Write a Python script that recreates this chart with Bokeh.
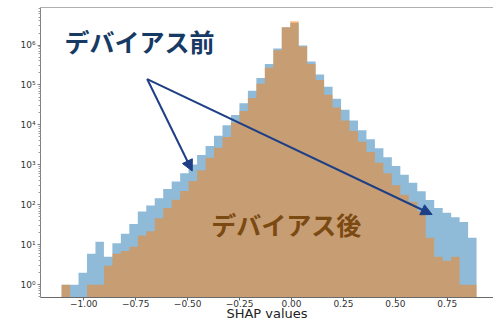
import numpy as np
from bokeh.plotting import figure
from bokeh.models import (ColumnDataSource, Range1d, FixedTicker, LinearAxis, Label,
                          Arrow, NormalHead, CustomJSTickFormatter)
from bokeh.embed import file_html
from bokeh.resources import INLINE

# ---- data ----
bin_start = -1.107
bin_end = 0.891
n_bins = 49

before_counts = [1, 1, 2, 6, 12, 5, 11, 19, 33, 68,
                 97, 146, 250, 385, 615, 1030, 1780, 2985, 5350, 9880,
                 17800, 35000, 72000, 150000, 337000, 815000, 2800000, 3600000, 975000, 390000,
                 182000, 91000, 45000, 24000, 13000, 7400, 4400, 2600, 1550, 940,
                 565, 355, 220, 132, 84, 63, 49, 37, 15]

after_counts = [1, 0, 0, 1, 1, 3, 6, 7, 9, 17,
                22, 46, 83, 134, 221, 394, 730, 1510, 2700, 5020,
                11500, 22500, 47000, 108000, 272000, 740000, 2800000, 3960000, 915000, 337000,
                134000, 57000, 27500, 13000, 7100, 3780, 2100, 1140, 620, 310,
                178, 120, 70, 15, 5, 4, 5, 1, 1]

x_ticks = [-1.0, -0.75, -0.5, -0.25, 0.0, 0.25, 0.5, 0.75]
x_tick_labels = ["\u22121.00", "\u22120.75", "\u22120.50", "\u22120.25", "0.00", "0.25", "0.50", "0.75"]
y_ticks = [1, 10, 100, 1000, 10000, 100000, 1000000]
y_tick_labels = ["10\u2070", "10\u00b9", "10\u00b2", "10\u00b3", "10\u2074", "10\u2075", "10\u2076"]

label_before = "デバイアス前"
label_after = "デバイアス後"
x_label = "SHAP values"

# ---- histogram outlines (one step polygon per series, like matplotlib's hist) ----
edges = np.linspace(bin_start, bin_end, n_bins + 1)
FLOOR = 1e-3

def step_source(counts):
    c = np.asarray(counts, dtype=float)
    c = np.where(c > 0, c, FLOOR)
    xs = [edges[0]]
    ys = [FLOOR]
    for i in range(n_bins):
        xs += [edges[i], edges[i + 1]]
        ys += [c[i], c[i]]
    xs.append(edges[-1])
    ys.append(FLOOR)
    return ColumnDataSource(dict(x=xs, y=ys))

src_before = step_source(before_counts)
src_after = step_source(after_counts)

p = figure(width=493, height=323, x_range=Range1d(-1.2085, 0.9726),
           y_range=Range1d(0.48, 8.7e6), y_axis_type="log",
           output_backend="svg", toolbar_location=None,
           min_border_left=40, min_border_right=0, min_border_top=7, min_border_bottom=0)
p.background_fill_color = "white"
p.border_fill_color = "white"
p.outline_line_color = None
p.grid.visible = False

p.patch(x="x", y="y", source=src_before, fill_color="#1f77b4", fill_alpha=0.5, line_color=None)
p.patch(x="x", y="y", source=src_after, fill_color="#ff7f0e", fill_alpha=0.5, line_color=None)

fmt_code = """
for (let i = 0; i < tvals.length; i++) {
  if (Math.abs(tvals[i] - tick) <= 1e-6 * Math.max(1, Math.abs(tvals[i]))) return tlabels[i];
}
return '';
"""

xa = p.xaxis[0]
xa.ticker = FixedTicker(ticks=x_ticks)
xa.formatter = CustomJSTickFormatter(args=dict(tvals=x_ticks, tlabels=x_tick_labels), code=fmt_code)
xa.axis_label = x_label
xa.axis_label_text_font = "DejaVu Sans"
xa.axis_label_text_font_size = "13px"
xa.axis_label_text_font_style = "normal"
xa.axis_label_text_color = "#222222"
xa.axis_label_standoff = -4
xa.major_label_text_font = "DejaVu Sans"
xa.major_label_text_font_size = "9px"
xa.major_label_text_color = "#333333"
xa.major_label_standoff = -1
xa.major_tick_out = 3
xa.major_tick_in = 0
xa.minor_tick_line_color = None
xa.axis_line_color = "#6a6a6a"
xa.major_tick_line_color = "#6a6a6a"

minor = [m * 10.0 ** e for e in range(-1, 7) for m in range(2, 10)]
ya = p.yaxis[0]
ya.ticker = FixedTicker(ticks=y_ticks, minor_ticks=minor)
ya.formatter = CustomJSTickFormatter(args=dict(tvals=y_ticks, tlabels=y_tick_labels), code=fmt_code)
ya.major_label_text_font = "DejaVu Sans"
ya.major_label_text_font_size = "9px"
ya.major_label_text_color = "#333333"
ya.major_label_standoff = 2
ya.major_tick_out = 3
ya.major_tick_in = 0
ya.minor_tick_out = 2
ya.minor_tick_in = 0
ya.axis_line_color = "#808080"
ya.major_tick_line_color = "#808080"
ya.minor_tick_line_color = "#9a9a9a"

top_axis = LinearAxis(ticker=FixedTicker(ticks=[]), axis_line_color="#b0b0b0",
                      major_tick_line_color=None, minor_tick_line_color=None,
                      major_label_text_font_size="0px")
p.add_layout(top_axis, "above")

navy = "#1e3f85"
p.add_layout(Arrow(end=NormalHead(size=11, fill_color=navy, line_color=navy),
                   x_start=-0.695, y_start=1.41e5, x_end=-0.478, y_end=703,
                   line_color=navy, line_width=2))
p.add_layout(Arrow(end=NormalHead(size=11, fill_color=navy, line_color=navy),
                   x_start=-0.695, y_start=1.41e5, x_end=0.677, y_end=57.4,
                   line_color=navy, line_width=2))

p.add_layout(Label(x=-1.093, y=1.25e6, text=label_before, text_font="Noto Sans CJK JP",
                   text_font_size="25px", text_font_style="bold", text_color="#173a64",
                   text_baseline="middle", text_align="left"))
p.add_layout(Label(x=-0.386, y=34, text=label_after, text_font="Noto Sans CJK JP",
                   text_font_size="25px", text_font_style="bold", text_color="#7b4a12",
                   text_baseline="middle", text_align="left"))

open("out.html", "w").write(file_html(p, INLINE))
